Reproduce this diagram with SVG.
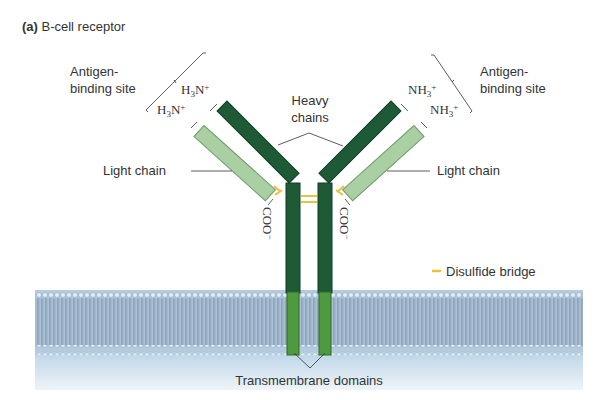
<svg xmlns="http://www.w3.org/2000/svg" width="612" height="400" viewBox="0 0 612 400">
<defs>
<linearGradient id="below" x1="0" y1="0" x2="0" y2="1"><stop offset="0" stop-color="#b9d3e6"/><stop offset="1" stop-color="#eef4f9"/></linearGradient>
<pattern id="heads" width="6" height="10" patternUnits="userSpaceOnUse"><circle cx="3" cy="5" r="2.4" fill="#e3eef7" stroke="#8aa6c0" stroke-width="0.6"/></pattern>
<pattern id="tails" width="4" height="24" patternUnits="userSpaceOnUse"><path d="M1.3 0 V24 M2.9 0 V24" stroke="#6f879e" stroke-width="0.7"/></pattern>
<style>
text{font-family:"Liberation Sans",Arial,sans-serif;font-size:13px;fill:#333}
.chem{font-family:"Liberation Serif","Times New Roman",serif;font-size:13px}
.heavy{fill:#1f5a37;stroke:#123d24;stroke-width:1}
.light{fill:#a9cfa2;stroke:#6d9a68;stroke-width:1}
.tm{fill:#4f9a3f;stroke:#2f6b28;stroke-width:1}
.ln{stroke:#333;stroke-width:0.8;fill:none}
.ss{stroke:#e8c23a;stroke-width:2;fill:none}
</style>
</defs>
<g id="membrane">
<rect x="35" y="350" width="548" height="40" fill="url(#below)"/>
<rect x="35" y="290" width="548" height="62" fill="#b4cade"/>
<rect x="35" y="298" width="548" height="24" fill="url(#tails)"/>
<rect x="35" y="322" width="548" height="24" fill="url(#tails)"/>
<rect x="35" y="288" width="548" height="10" fill="url(#heads)"/>
<rect x="35" y="345" width="548" height="10" fill="url(#heads)"/>
</g>
<g id="heavy-left">
<rect x="286" y="183" width="14" height="110" class="heavy"/>
<rect x="287" y="292" width="12" height="63" class="tm"/>
<rect x="0" y="-7" width="102" height="14" class="heavy" transform="translate(222,106) rotate(45)"/>
</g>
<g id="heavy-right">
<rect x="318" y="183" width="14" height="110" class="heavy"/>
<rect x="319" y="292" width="12" height="63" class="tm"/>
<rect x="-102" y="-7" width="102" height="14" class="heavy" transform="translate(396,106) rotate(-45)"/>
</g>
<g id="light-left"><rect x="0" y="-7.5" width="96" height="15" class="light" transform="translate(199,131) rotate(42)"/></g>
<g id="light-right"><rect x="-96" y="-7.5" width="96" height="15" class="light" transform="translate(419,131) rotate(-42)"/></g>
<g id="connectors">
<path class="ss" d="M274 186 L281 192 M275 195 L282 190 M301 196 H317 M301 202 H317 M344 186 L337 192 M343 195 L336 190"/>
<path class="ln" d="M217 104 L210 111 M191 128 L197 122 M401 104 L408 111 M427 128 L421 122 M273 199 L268 205 M345 199 L350 205"/>
<path class="ln" d="M148 112 L146 110 L203 53 L206 53 M176 83 L174 80 M470 113 L472 111 L434 55 L431 55 M452 82 L454 80"/>
<path class="ln" d="M278 145 L309 133 L343 146"/>
<path class="ln" d="M191 171 H232 M387 171 H430"/>
<path class="ln" d="M294 353 L310 368 L325 353"/>
<path d="M432 271 H441" stroke="#e8c23a" stroke-width="2.5"/>
</g>
<g id="labels">
<text x="22" y="31" font-size="14"><tspan font-weight="bold">(a)</tspan> B-cell receptor</text>
<text x="70" y="76">Antigen-</text>
<text x="70" y="93">binding site</text>
<text x="480" y="76">Antigen-</text>
<text x="480" y="93">binding site</text>
<text class="chem" x="181" y="94">H<tspan font-size="9" dy="3">3</tspan><tspan dy="-3">N</tspan><tspan font-size="9" dy="-4">+</tspan></text>
<text class="chem" x="157" y="114">H<tspan font-size="9" dy="3">3</tspan><tspan dy="-3">N</tspan><tspan font-size="9" dy="-4">+</tspan></text>
<text class="chem" x="408" y="94">NH<tspan font-size="9" dy="3">3</tspan><tspan font-size="9" dy="-7">+</tspan></text>
<text class="chem" x="430" y="114">NH<tspan font-size="9" dy="3">3</tspan><tspan font-size="9" dy="-7">+</tspan></text>
<text x="310" y="105" text-anchor="middle">Heavy</text>
<text x="310" y="122" text-anchor="middle">chains</text>
<text x="103" y="175">Light chain</text>
<text x="437" y="175">Light chain</text>
<text class="chem" transform="translate(263,207) rotate(90)">COO<tspan font-size="9" dy="-4">−</tspan></text>
<text class="chem" transform="translate(340,207) rotate(90)">COO<tspan font-size="9" dy="-4">−</tspan></text>
<text x="446" y="276">Disulfide bridge</text>
<text x="309" y="385" text-anchor="middle">Transmembrane domains</text>
</g>
</svg>
